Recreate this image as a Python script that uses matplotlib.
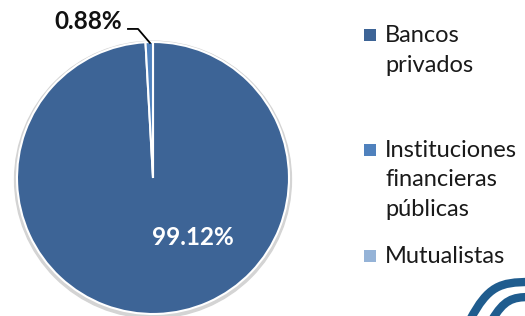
import matplotlib
matplotlib.use('Agg')
import matplotlib.pyplot as plt
from matplotlib.patches import Rectangle, Circle, PathPatch
from matplotlib.path import Path

plt.rcParams['font.family'] = ['Lato', 'DejaVu Sans']

# datos
categorias = ['Bancos\nprivados', 'Instituciones\nfinancieras\npúblicas', 'Mutualistas']
valores = [99.12, 0.88, 0.0]
colores = ['#3D6496', '#4F81BD', '#95B3D7']
etiquetas = ['99.12%', '0.88%', '']

W, H = 525, 316
fig = plt.figure(figsize=(W / 100, H / 100), dpi=100)

# pastel: centro (153,178) px, radio 136 px
cx, cy, r = 153, 178, 136
ax = fig.add_axes([(cx - r) / W, (H - cy - r) / H, 2 * r / W, 2 * r / H])
ax.axis('off')

# sombra suave
ax.add_patch(Circle((0.0, -0.012), 1.018, color='#d4d4d4', zorder=0, clip_on=False))
ax.pie([v for v in valores if v > 0], colors=colores[:2], startangle=90, counterclock=False,
       radius=1, wedgeprops=dict(edgecolor='white', linewidth=1.5))
ax.set_xlim(-1, 1)
ax.set_ylim(-1, 1)
ax.set_aspect('equal')

ax.text(0.29, -0.44, etiquetas[0], color='white', fontsize=17.5, fontweight='bold',
        ha='center', va='center')
# etiqueta 0.88% con linea guia
ax.plot([-0.022, -0.11, -0.184], [0.993, 1.096, 1.096], color='black', lw=1.3, clip_on=False)
ax.text(-0.228, 1.096, etiquetas[1], color='#111111', fontsize=17.5, fontweight='bold',
        ha='right', va='baseline', clip_on=False)

# leyenda manual (coordenadas en pixeles)
lg = fig.add_axes([0, 0, 1, 1])
lg.set_xlim(0, W)
lg.set_ylim(H, 0)
lg.axis('off')
base_y = [42, 157, 263]
paso = 29.5
for cat, col, by in zip(categorias, colores, base_y):
    lg.add_patch(Rectangle((364, by - 13), 12, 12, facecolor=col, edgecolor='none'))
    for i, linea in enumerate(cat.split('\n')):
        lg.text(385, by + i * paso, linea, fontsize=17, color='#1a1a1a',
                ha='left', va='baseline')

# trozo de logo en la esquina
for pts, lw in [([(470, 320), (488, 286), (500, 282), (530, 282)], 6),
                ([(492, 320), (504, 300), (512, 297), (530, 297)], 6)]:
    lg.add_patch(PathPatch(Path(pts, [Path.MOVETO, Path.CURVE4, Path.CURVE4, Path.CURVE4]),
                           facecolor='none', edgecolor='#1F5C8E', lw=lw, clip_on=False))

fig.savefig('out.png', dpi=100)
